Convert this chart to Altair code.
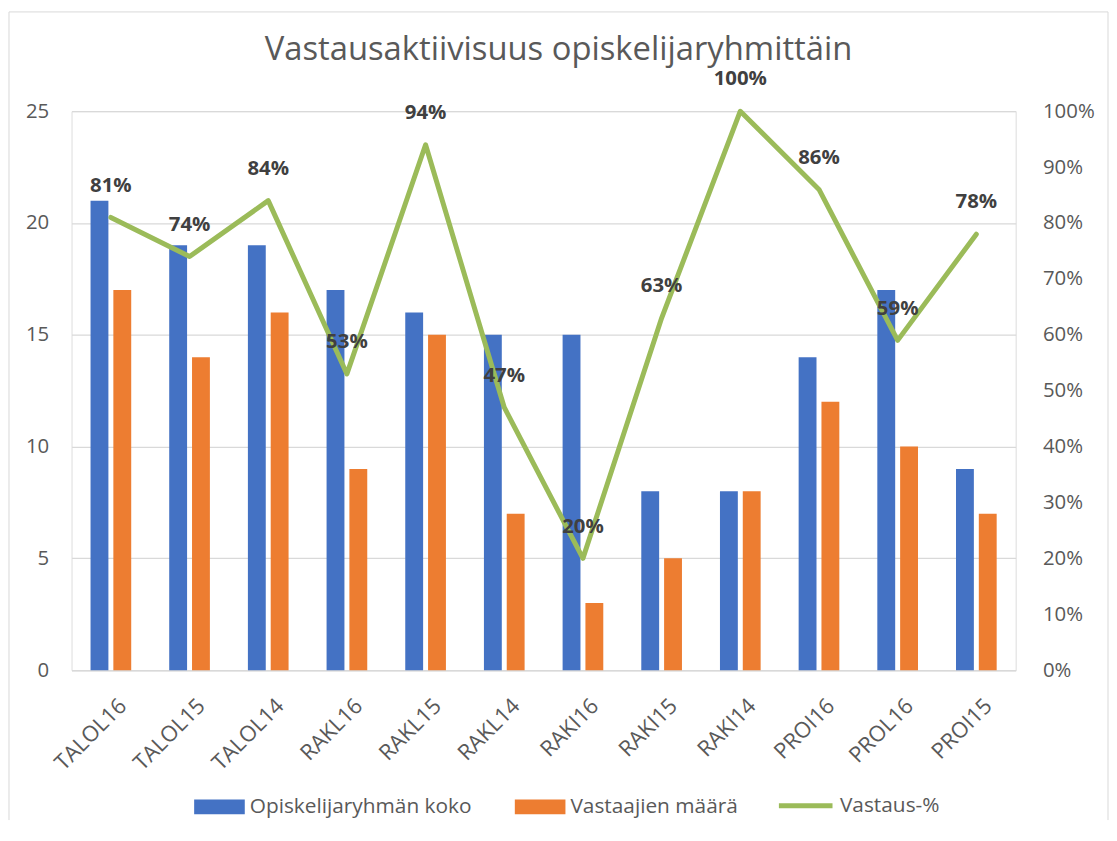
import altair as alt
import pandas as pd

categories = ["TALOL16", "TALOL15", "TALOL14", "RAKL16", "RAKL15", "RAKL14",
              "RAKI16", "RAKI15", "RAKI14", "PROI16", "PROL16", "PROI15"]
group_size = [21, 19, 19, 17, 16, 15, 15, 8, 8, 14, 17, 9]
respondents = [17, 14, 16, 9, 15, 7, 3, 5, 8, 12, 10, 7]
response_rate = [0.81, 0.74, 0.84, 0.53, 0.94, 0.47, 0.20, 0.63, 1.00, 0.86, 0.59, 0.78]
series_names = ["Opiskelijaryhmän koko", "Vastaajien määrä", "Vastaus-%"]
series_colors = ["#4472C4", "#ED7D31", "#9BBB59"]
left_ticks = [0, 5, 10, 15, 20, 25]
right_ticks = [0, 0.1, 0.2, 0.3, 0.4, 0.5, 0.6, 0.7, 0.8, 0.9, 1.0]
title_text = "Vastausaktiivisuus opiskelijaryhmittäin"

FONT = "Open Sans"
GREY = "#595959"
GRID = "#D9D9D9"
AXIS_FS = 20.5

bars_df = pd.DataFrame({
    "category": categories * 2,
    "series": [series_names[0]] * len(categories) + [series_names[1]] * len(categories),
    "value": group_size + respondents,
})
rate_df = pd.DataFrame({"category": categories, "rate": response_rate,
                        "series": [series_names[2]] * len(categories)})

x_enc = alt.X(
    "category:N", sort=categories, title=None,
    scale=alt.Scale(paddingInner=0.483, paddingOuter=0.2415),
    axis=alt.Axis(labelAngle=-45, labelFontSize=22, labelColor=GREY, labelFont=FONT,
                  ticks=False, domainColor=GRID, domainWidth=1.5, labelPadding=25,
                  labelOffset=5, grid=False),
)

legend_common = dict(direction="horizontal", title=None, orient="none",
                     labelFontSize=21, labelColor=GREY, labelFont=FONT, labelLimit=400,
                     labelOffset=5, columnPadding=43, padding=0)

bar_legend = alt.Legend(
    legendX=123.5, legendY=675,
    symbolType="M-1,-0.29H1V0.29H-1Z", symbolSize=2600, symbolStrokeWidth=0,
    **legend_common,
)
line_legend = alt.Legend(
    legendX=710, legendY=670,
    symbolType="stroke", symbolSize=2916, symbolStrokeWidth=5,
    **legend_common,
)

bars = alt.Chart(bars_df).mark_bar().encode(
    x=x_enc,
    xOffset=alt.XOffset("series:N", sort=series_names[:2],
                        scale=alt.Scale(paddingInner=0.217, paddingOuter=0)),
    y=alt.Y("value:Q", title=None, scale=alt.Scale(domain=[0, 25], nice=False),
            axis=alt.Axis(orient="left", values=left_ticks, ticks=False, domain=False,
                          labelFontSize=AXIS_FS, labelColor=GREY, labelFont=FONT,
                          labelPadding=23, gridColor=GRID, gridWidth=1.3)),
    color=alt.Color("series:N", sort=series_names[:2],
                    scale=alt.Scale(domain=series_names[:2], range=series_colors[:2]),
                    legend=bar_legend),
)

right_axis = alt.Axis(orient="right", values=right_ticks, format=".0%", ticks=False,
                      domain=False, grid=False, labelFontSize=AXIS_FS, labelColor=GREY,
                      labelFont=FONT, labelPadding=27)
rate_y = alt.Y("rate:Q", title=None, scale=alt.Scale(domain=[0, 1], nice=False), axis=right_axis)

line = alt.Chart(rate_df).mark_line(
    strokeWidth=5, strokeJoin="round", strokeCap="round"
).encode(
    x=alt.X("category:N", sort=categories), y=rate_y,
    stroke=alt.Stroke("series:N", scale=alt.Scale(domain=series_names[2:], range=series_colors[2:]),
                      legend=line_legend),
)

labels = alt.Chart(rate_df).mark_text(
    dy=-32, fontSize=20.5, fontWeight="bold", color="#404040", font=FONT
).encode(x=alt.X("category:N", sort=categories), y=rate_y,
         text=alt.Text("rate:Q", format=".0%"))

rate_layer = alt.layer(line, labels)

frame_data = alt.Data(values=[{}])
top_rule = alt.Chart(frame_data).mark_rule(color=GRID, strokeWidth=1).encode(
    x=alt.value(-63), x2=alt.value(1044), y=alt.value(-100))
left_rule = alt.Chart(frame_data).mark_rule(color=GRID, strokeWidth=1).encode(
    x=alt.value(-63), y=alt.value(-100), y2=alt.value(714))
right_rule = alt.Chart(frame_data).mark_rule(color=GRID, strokeWidth=1).encode(
    x=alt.value(1044), y=alt.value(-100), y2=alt.value(714))

chart = alt.layer(
    top_rule, left_rule, right_rule, bars, rate_layer
).resolve_scale(
    y="independent"
).properties(
    width=951, height=563, padding=0,
    title=alt.TitleParams(title_text, fontSize=33, font=FONT, color=GREY,
                          fontWeight="normal", anchor="middle", frame="bounds",
                          baseline="alphabetic", offset=-82),
).configure_view(stroke=None).configure(font=FONT)

chart.save("out.html", embed_options={"renderer": "svg", "actions": False})
